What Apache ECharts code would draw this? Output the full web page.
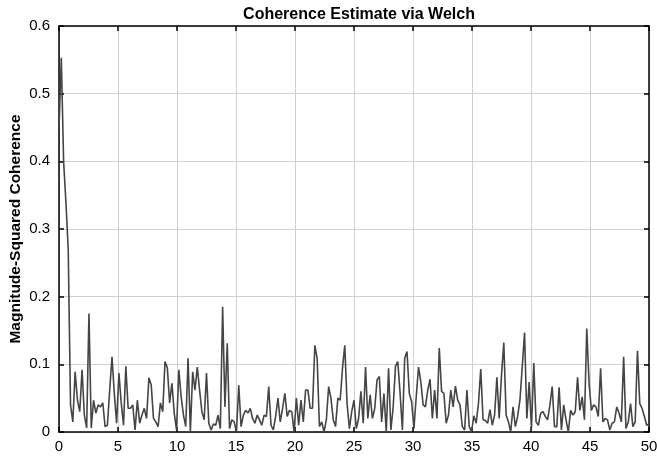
<!DOCTYPE html>
<html>
<head>
<meta charset="utf-8">
<script src="https://cdn.jsdelivr.net/npm/echarts@6/dist/echarts.min.js"></script>
<style>
  html, body { margin: 0; padding: 0; background: #ffffff; }
  #chart { width: 657px; height: 463px; }
</style>
</head>
<body>
<div id="chart"></div>
<script>
// Welch magnitude-squared coherence, 257 bins from 0 to 50 Hz
const sampleRate = 100;
const nfft = 512;

const coherence = [
  0.45, 0.553, 0.40, 0.34, 0.27, 0.04, 0.015, 0.089, 0.047, 0.03,
  0.092, 0.025, 0.006, 0.175, 0.006, 0.047, 0.028, 0.04, 0.037, 0.043,
  0.008, 0.01, 0.062, 0.111, 0.057, 0.013, 0.087, 0.043, 0.01, 0.097,
  0.035, 0.035, 0.04, 0.003, 0.047, 0.013, 0.025, 0.035, 0.02, 0.08,
  0.07, 0.02, 0.015, 0.008, 0.043, 0.03, 0.104, 0.095, 0.043, 0.072,
  0.028, 0.003, 0.092, 0.052, 0.025, 0.008, 0.109, 0.0, 0.089, 0.062,
  0.096, 0.062, 0.03, 0.018, 0.087, 0.013, 0.003, 0.012, 0.01, 0.025,
  0.005, 0.185, 0.037, 0.131, 0.005, 0.018, 0.015, 0.0, 0.069, 0.008,
  0.025, 0.032, 0.028, 0.035, 0.02, 0.013, 0.025, 0.018, 0.01, 0.025,
  0.023, 0.067, 0.01, 0.003, 0.023, 0.05, 0.015, 0.035, 0.057, 0.023,
  0.032, 0.03, 0.0, 0.05, 0.01, 0.047, 0.015, 0.062, 0.062, 0.035,
  0.035, 0.128, 0.109, 0.008, 0.015, 0.0, 0.018, 0.067, 0.05, 0.018,
  0.008, 0.05, 0.047, 0.094, 0.128, 0.042, 0.005, 0.03, 0.047, 0.005,
  0.02, 0.06, 0.013, 0.096, 0.02, 0.055, 0.02, 0.035, 0.077, 0.082,
  0.015, 0.057, 0.0, 0.094, 0.003, 0.037, 0.097, 0.104, 0.057, 0.003,
  0.109, 0.119, 0.057, 0.045, 0.005, 0.052, 0.096, 0.074, 0.04, 0.037,
  0.062, 0.078, 0.02, 0.062, 0.02, 0.124, 0.06, 0.057, 0.013, 0.025,
  0.062, 0.037, 0.068, 0.047, 0.04, 0.008, 0.003, 0.062, 0.008, 0.0,
  0.024, 0.013, 0.042, 0.093, 0.018, 0.017, 0.013, 0.033, 0.01, 0.025,
  0.081, 0.02, 0.084, 0.132, 0.025, 0.015, 0.0, 0.037, 0.008, 0.023,
  0.047, 0.096, 0.147, 0.02, 0.074, 0.005, 0.102, 0.015, 0.01, 0.028,
  0.03, 0.023, 0.018, 0.04, 0.067, 0.008, 0.008, 0.066, 0.003, 0.04,
  0.018, 0.0, 0.032, 0.025, 0.03, 0.081, 0.032, 0.052, 0.018, 0.153,
  0.072, 0.032, 0.04, 0.037, 0.023, 0.094, 0.015, 0.02, 0.018, 0.003,
  0.013, 0.015, 0.037, 0.028, 0.015, 0.111, 0.005, 0.015, 0.042, 0.008,
  0.015, 0.12, 0.042, 0.035, 0.023, 0.01, 0.012
];

// frequency of each bin
const frequency = coherence.map((_, i) => i * sampleRate / nfft);

const xTicks = [0, 5, 10, 15, 20, 25, 30, 35, 40, 45, 50];
const yTicks = [0, 0.1, 0.2, 0.3, 0.4, 0.5, 0.6];

const fontFamily = 'Liberation Sans, Arial, sans-serif';
const labelFont = { color: '#000', fontFamily: fontFamily, fontSize: 15 };

const boxAxisLine = { show: true, onZero: false, lineStyle: { color: '#000', width: 1.5 } };
const inTicks = { show: true, inside: true, length: 5, lineStyle: { color: '#000', width: 1.5 } };
const gridLines = { show: true, lineStyle: { color: '#d0d0d0', width: 1 } };

const chart = echarts.init(document.getElementById('chart'));
chart.setOption({
  animation: false,
  backgroundColor: '#ffffff',
  title: {
    text: 'Coherence Estimate via Welch',
    left: 354,
    textAlign: 'center',
    top: 2,
    textStyle: { fontFamily: fontFamily, fontSize: 16, fontWeight: 'bold', color: '#000' }
  },
  grid: { left: 59, right: 8, top: 26, bottom: 31, containLabel: false, outerBoundsMode: 'none' },
  xAxis: [
    {
      type: 'value', min: xTicks[0], max: xTicks[xTicks.length - 1], interval: 5,
      axisLine: boxAxisLine, axisTick: inTicks,
      axisLabel: Object.assign({ margin: 7 }, labelFont),
      splitLine: gridLines
    },
    {
      type: 'value', position: 'top', min: xTicks[0], max: xTicks[xTicks.length - 1], interval: 5,
      axisLine: boxAxisLine, axisTick: inTicks, axisLabel: { show: false }, splitLine: { show: false }
    }
  ],
  yAxis: [
    {
      type: 'value', min: yTicks[0], max: yTicks[yTicks.length - 1], interval: 0.1,
      name: 'Magnitude-Squared Coherence',
      nameLocation: 'middle', nameGap: 35, nameMoveOverlap: false,
      nameTextStyle: { fontFamily: fontFamily, fontSize: 15.5, fontWeight: 'bold', color: '#000' },
      axisLine: boxAxisLine, axisTick: inTicks,
      axisLabel: Object.assign({ margin: 9, formatter: v => String(Math.round(v * 10) / 10) }, labelFont),
      splitLine: gridLines
    },
    {
      type: 'value', position: 'right', min: yTicks[0], max: yTicks[yTicks.length - 1], interval: 0.1,
      axisLine: boxAxisLine, axisTick: inTicks, axisLabel: { show: false }, splitLine: { show: false }
    }
  ],
  series: [{
    type: 'line',
    xAxisIndex: 0,
    yAxisIndex: 0,
    data: frequency.map((f, i) => [f, coherence[i]]),
    showSymbol: false,
    lineStyle: { color: '#454545', width: 1.6 },
    z: 3
  }]
});
</script>
</body>
</html>
